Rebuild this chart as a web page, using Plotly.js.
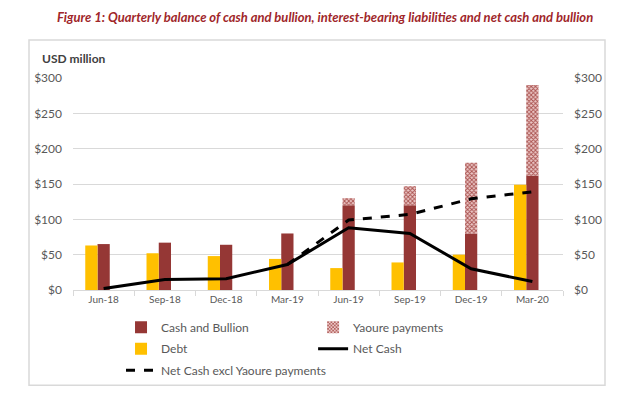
<!DOCTYPE html>
<html>
<head>
<meta charset="utf-8">
<script src="https://cdn.plot.ly/plotly-3.0.1.min.js"></script>
<style>html,body{margin:0;padding:0;background:#fff;}#chart{width:640px;height:397px;}</style>
</head>
<body>
<div id="chart"></div>
<script>
const quarters = ["Jun-18","Sep-18","Dec-18","Mar-19","Jun-19","Sep-19","Dec-19","Mar-20"];
const cashBullion = [65, 67, 64, 80, 120, 120, 80, 162];
const yaourePayments = [0, 0, 0, 0, 10, 27, 100, 128];
const debt = [63, 52, 48, 44, 31, 39, 50, 149];
const netCash = [2, 15, 16, 36, 88, 80, 30, 12];
const netCashExclYaoure = [null, null, null, 36, 99, 107, 129, 139];
const yTicks = [0, 50, 100, 150, 200, 250, 300];
const yTickLabels = ["$0", "$50", "$100", "$150", "$200", "$250", "$300"];

const FONT = "Lato, 'Liberation Sans', Arial, sans-serif";
const GREY = "#595959";

const traces = [
  {type:"bar", name:"Cash and Bullion", x:quarters, y:cashBullion, legend:"legend", legendgroup:"a", legendrank:1,
   marker:{color:"#953735"}, width:0.2, offset:-0.1, hoverinfo:"skip"},
  {type:"bar", name:"Yaoure payments", x:quarters, y:yaourePayments, base:cashBullion, legend:"legend2", legendgroup:"b", legendrank:1,
   marker:{color:"#e6b9b8", pattern:{shape:"x", fgcolor:"#a8504d", bgcolor:"#ecc8c7", size:3, solidity:0.5}},
   width:0.2, offset:-0.1, hoverinfo:"skip"},
  {type:"bar", name:"Debt", x:quarters, y:debt, legend:"legend", legendgroup:"c", legendrank:2,
   marker:{color:"#ffc000"}, width:0.2, offset:-0.3, hoverinfo:"skip"},
  {type:"scatter", mode:"lines", name:"Net Cash", x:quarters, y:netCash, legend:"legend2", legendgroup:"d", legendrank:2,
   line:{color:"#000000", width:3}, hoverinfo:"skip"},
  {type:"scatter", mode:"lines", name:"Net Cash excl Yaoure payments", x:quarters, y:netCashExclYaoure,
   legend:"legend", legendgroup:"e", legendrank:3,
   yaxis:"y2", line:{color:"#000000", width:3, dash:"dash"}, hoverinfo:"skip"}
];

const legendBase = {orientation:"v", xanchor:"left", y:-0.107, yanchor:"top", tracegroupgap:2.5,
                    font:{size:12, color:GREY}, traceorder:"grouped", bgcolor:"rgba(0,0,0,0)"};

const layout = {
  width:640, height:397,
  margin:{l:73, r:77, t:78, b:105},
  paper_bgcolor:"#ffffff", plot_bgcolor:"#ffffff",
  font:{family:FONT, color:GREY, size:11},
  barmode:"overlay",
  showlegend:true,
  title:{text:"<b><i>Figure 1: Quarterly balance of cash and bullion, interest-bearing liabilities and net cash and bullion</i></b>",
         font:{family:FONT, size:13, color:"#a0262a"}, x:0.508, xref:"container", xanchor:"center",
         y:0.955, yref:"container", yanchor:"middle"},
  xaxis:{type:"category", tickson:"boundaries", ticks:"outside", ticklen:5, tickcolor:"#d9d9d9",
         showline:true, linecolor:"#d9d9d9", linewidth:1, showgrid:false,
         tickfont:{size:10, color:GREY}, range:[-0.5, 7.5], fixedrange:true},
  yaxis:{range:[0,300], tickvals:yTicks, ticktext:yTickLabels, showgrid:true, gridcolor:"#d9d9d9",
         zeroline:false, ticks:"", ticklabelstandoff:10, tickfont:{size:12, color:GREY}, fixedrange:true},
  yaxis2:{range:[0,300], tickvals:yTicks, ticktext:yTickLabels, overlaying:"y", side:"right", showgrid:false,
          zeroline:false, ticks:"", ticklabelstandoff:10, tickfont:{size:12, color:GREY}, fixedrange:true},
  legend:Object.assign({}, legendBase, {x:0.098}),
  legend2:Object.assign({}, legendBase, {x:0.49}),
  annotations:[{text:"<b>USD million</b>", xref:"paper", yref:"paper", x:-0.067, y:1.09,
                xanchor:"left", yanchor:"middle", showarrow:false, font:{size:12, color:"#404040"}}],
  shapes:[{type:"rect", xref:"paper", yref:"paper", x0:-0.0898, x1:1.0857, y0:-0.449, y1:1.179,
           line:{color:"#d9d9d9", width:1.5}, fillcolor:"rgba(0,0,0,0)", layer:"below"}]
};

Plotly.newPlot("chart", traces, layout, {displayModeBar:false, staticPlot:true});
</script>
</body>
</html>
